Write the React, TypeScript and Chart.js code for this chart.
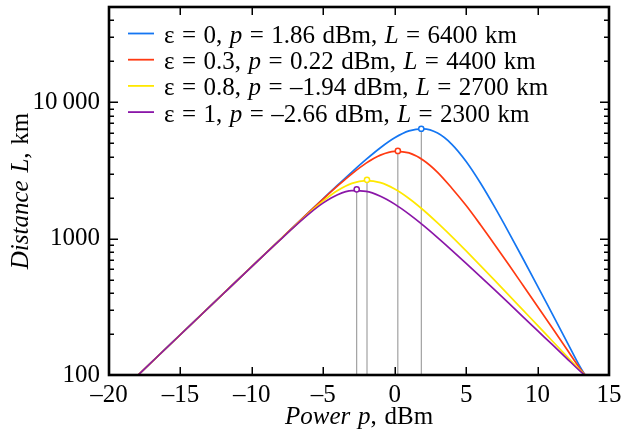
import { useEffect, useRef } from 'react';
import { Chart, registerables } from 'chart.js';

Chart.register(...registerables);

const FONT = "'Liberation Serif', 'Times New Roman', serif";

// Power, dBm (shared sample positions)
const powerDbm = [-18, -12, -8, -6, -5, -4, -3, -2, -1, 0, 1, 2, 3, 4, 5, 6, 7, 8, 9, 10, 11, 12, 13, 13.35];

// Distance L, km for each epsilon
const distEps0 = [99.1, 394.5, 990.1, 1567, 1968, 2467, 3079, 3811, 4643, 5491, 6167, 6389, 5944, 4920, 3679, 2559, 1702, 1104, 706, 449, 284, 179.6, 113.5, 98.8];
const distEps03 = [99.1, 394.5, 989.5, 1563, 1956, 2434, 2989, 3581, 4100, 4373, 4254, 3762, 3067, 2344, 1748, 1265, 903.4, 640.3, 451.7, 318.1, 223.7, 157.1, 110.4, 99.2];
const distEps08 = [99.1, 394.4, 987.2, 1541, 1890, 2252, 2544, 2666, 2573, 2312, 1971, 1622, 1304, 1034, 812.2, 634.7, 494.3, 384.0, 297.8, 231.0, 179.0, 138.7, 107.5, 99.5];
const distEps1 = [99.1, 394.4, 985.2, 1520, 1830, 2102, 2248, 2221, 2046, 1791, 1513, 1251, 1018, 821.7, 659.3, 526.9, 420.2, 334.6, 266.2, 211.6, 168.2, 133.7, 106.2, 99.1];

const seriesLabels = [
  'ε = 0, p = 1.86 dBm, L = 6400 km',
  'ε = 0.3, p = 0.22 dBm, L = 4400 km',
  'ε = 0.8, p = –1.94 dBm, L = 2700 km',
  'ε = 1, p = –2.66 dBm, L = 2300 km',
];
const seriesColors = ['#1476f2', '#ff3a12', '#ffe800', '#8a16a8'];

// Optimum points
const peakPower = [1.86, 0.22, -1.94, -2.66];
const peakDistance = [6400, 4400, 2700, 2300];

// Axes
const xMin = -20;
const xMax = 15;
const yMin = 100;
const yMax = 50000;
const xTicks = [-20, -15, -10, -5, 0, 5, 10, 15];
const yMajorTicks = [100, 1000, 10000];
const yTickLabels = ['100', '1000', '10\u2009000'];
const yMinorTicks = [200, 300, 400, 500, 600, 700, 800, 900, 2000, 3000, 4000, 5000, 6000, 7000, 8000, 9000, 20000, 30000, 40000];
const xTitle: [string, boolean][] = [['Power p', true], [', dBm', false]];
const yTitle: [string, boolean][] = [['Distance L', true], [', km', false]];

function splitItalic(label: string): [string, boolean][] {
  const parts = label.split(/(\bp\b|\bL\b)/);
  return parts.filter((s) => s.length > 0).map((s) => [s, s === 'p' || s === 'L'] as [string, boolean]);
}

function drawMixed(
  ctx: CanvasRenderingContext2D,
  parts: [string, boolean][],
  x: number,
  y: number,
  size: number,
  align: 'left' | 'center',
  wordSpace: number,
) {
  ctx.textBaseline = 'alphabetic';
  ctx.textAlign = 'left';
  const pieces: { t: string; it: boolean; w: number }[] = [];
  parts.forEach(([t, it]) => {
    ctx.font = `${it ? 'italic ' : ''}${size}px ${FONT}`;
    t.split(/( )/).forEach((s) => {
      if (!s) return;
      const w = ctx.measureText(s).width + (s === ' ' ? wordSpace : 0);
      pieces.push({ t: s, it, w });
    });
  });
  const total = pieces.reduce((a, p) => a + p.w, 0);
  let cx = align === 'center' ? x - total / 2 : x;
  pieces.forEach((p) => {
    if (p.t !== ' ') {
      ctx.font = `${p.it ? 'italic ' : ''}${size}px ${FONT}`;
      ctx.fillText(p.t, cx, y);
    }
    cx += p.w;
  });
}

const decorPlugin = {
  id: 'decor',
  afterDraw(chart: any) {
    const ctx: CanvasRenderingContext2D = chart.ctx;
    const { left, right, top, bottom } = chart.chartArea;
    const xs = chart.scales.x;
    const ys = chart.scales.y;
    ctx.save();
    ctx.strokeStyle = '#000';
    ctx.fillStyle = '#000';
    // ticks
    ctx.lineWidth = 1.5;
    ctx.beginPath();
    xTicks.forEach((v) => {
      if (v <= xMin || v >= xMax) return;
      const px = Math.round(xs.getPixelForValue(v)) + 0.25;
      ctx.moveTo(px, bottom);
      ctx.lineTo(px, bottom - 8);
      ctx.moveTo(px, top);
      ctx.lineTo(px, top + 8);
    });
    yMajorTicks.forEach((v) => {
      if (v <= yMin || v >= yMax) return;
      const py = Math.round(ys.getPixelForValue(v)) + 0.25;
      ctx.moveTo(left, py);
      ctx.lineTo(left + 9, py);
      ctx.moveTo(right, py);
      ctx.lineTo(right - 9, py);
    });
    yMinorTicks.forEach((v) => {
      const py = Math.round(ys.getPixelForValue(v)) + 0.25;
      ctx.moveTo(left, py);
      ctx.lineTo(left + 5, py);
      ctx.moveTo(right, py);
      ctx.lineTo(right - 5, py);
    });
    ctx.stroke();
    // frame
    ctx.lineWidth = 2.6;
    ctx.strokeRect(left, top, right - left, bottom - top);

    // legend
    seriesLabels.forEach((lab, i) => {
      const rowY = top + 26.5 + i * 26.2;
      ctx.strokeStyle = seriesColors[i];
      ctx.lineWidth = 1.8;
      ctx.beginPath();
      ctx.moveTo(left + 19, rowY);
      ctx.lineTo(left + 45, rowY);
      ctx.stroke();
      ctx.fillStyle = '#000';
      drawMixed(ctx, splitItalic(lab), left + 55, rowY + 9.5, 25, 'left', 1.2);
    });

    // axis titles
    ctx.fillStyle = '#000';
    drawMixed(ctx, xTitle, (left + right) / 2, 424, 25, 'center', 1.5);
    ctx.save();
    ctx.translate(28, (top + bottom) / 2);
    ctx.rotate(-Math.PI / 2);
    drawMixed(ctx, yTitle, 0, 0, 25, 'center', 1.5);
    ctx.restore();
    ctx.restore();
  },
};

export default function App() {
  const ref = useRef<HTMLCanvasElement | null>(null);

  useEffect(() => {
    document.body.style.margin = '0';
    const canvas = ref.current;
    if (!canvas) return;

    const curveSets = [distEps0, distEps03, distEps08, distEps1];
    const curveDatasets = curveSets.map((arr, i) => ({
      label: seriesLabels[i],
      data: powerDbm.map((p, j) => ({ x: p, y: arr[j] })),
      borderColor: seriesColors[i],
      backgroundColor: seriesColors[i],
      borderWidth: 1.7,
      pointRadius: 0,
      cubicInterpolationMode: 'monotone' as const,
      fill: false,
      order: 4 - i,
    }));
    const dropLines = peakPower.map((p, i) => ({
      label: 'drop' + i,
      data: [
        { x: p, y: yMin },
        { x: p, y: peakDistance[i] },
      ],
      borderColor: '#8f8f8f',
      borderWidth: 1,
      pointRadius: 0,
      fill: false,
      order: 10,
    }));
    const markers = {
      label: 'optimum',
      data: peakPower.map((p, i) => ({ x: p, y: peakDistance[i] })),
      showLine: false,
      pointRadius: 2.6,
      pointBorderWidth: 1.5,
      pointBorderColor: seriesColors,
      pointBackgroundColor: '#ffffff',
      order: 0,
    };

    const chart = new Chart(canvas, {
      type: 'line',
      data: { datasets: [markers, ...curveDatasets, ...dropLines] as any },
      options: {
        animation: false,
        responsive: false,
        devicePixelRatio: 1,
        layout: { padding: { top: 7, right: 12, left: 0, bottom: 0 } },
        plugins: { legend: { display: false }, tooltip: { enabled: false } },
        scales: {
          x: {
            type: 'linear',
            min: xMin,
            max: xMax,
            afterBuildTicks: (s: any) => {
              s.ticks = xTicks.map((v) => ({ value: v }));
            },
            afterFit: (s: any) => {
              s.height = 70;
              s.paddingLeft = 0;
              s.paddingRight = 0;
            },
            ticks: {
              autoSkip: false,
              maxRotation: 0,
              padding: 5,
              color: '#000',
              font: { family: FONT, size: 25 },
              callback: (v: any) => String(v).replace('-', '–'),
            },
            grid: { display: false, drawTicks: false },
            border: { display: false },
          },
          y: {
            type: 'logarithmic',
            min: yMin,
            max: yMax,
            afterBuildTicks: (s: any) => {
              s.ticks = yMajorTicks.map((v) => ({ value: v }));
            },
            afterFit: (s: any) => {
              s.width = 109;
              s.paddingTop = 0;
              s.paddingBottom = 0;
            },
            ticks: {
              autoSkip: false,
              padding: 9,
              color: '#000',
              font: { family: FONT, size: 25 },
              callback: (v: any) => {
                const k = yMajorTicks.indexOf(Number(v));
                return k >= 0 ? yTickLabels[k] : '';
              },
            },
            grid: { display: false, drawTicks: false },
            border: { display: false },
          },
        },
      },
      plugins: [decorPlugin],
    });
    return () => chart.destroy();
  }, []);

  return (
    <div style={{ width: 621, height: 445 }}>
      <canvas ref={ref} width={621} height={445} style={{ display: 'block' }} />
    </div>
  );
}
